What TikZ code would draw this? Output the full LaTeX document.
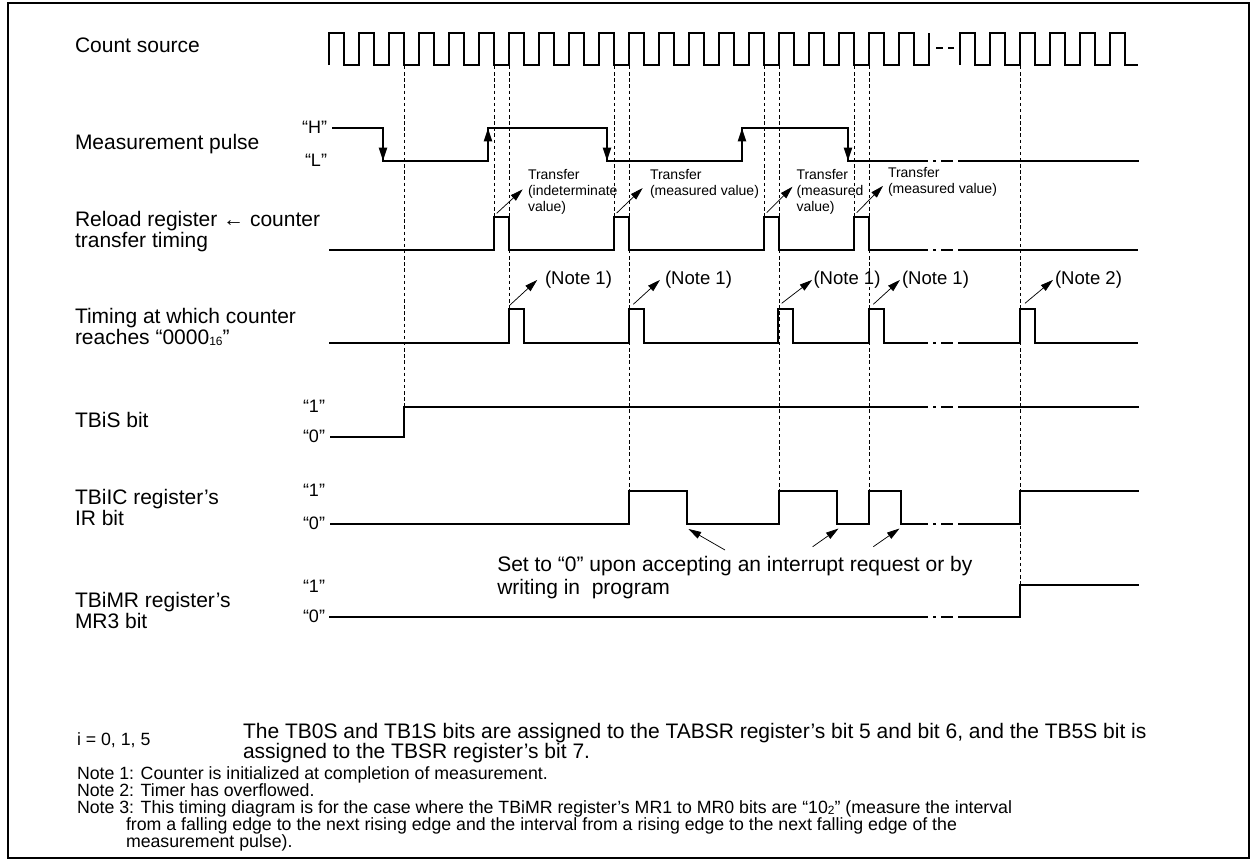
\documentclass[tikz,border=0pt]{standalone}
\usepackage{fontspec}
\setmainfont{Liberation Sans}
\usetikzlibrary{arrows.meta}
\newcommand{\fsig}{\fontsize{15.75}{15.75}\selectfont}
\newcommand{\flev}{\fontsize{13.5}{13.5}\selectfont}
\newcommand{\fnote}{\fontsize{13.9}{14}\selectfont}
\newcommand{\fxfer}{\fontsize{10.5}{12}\selectfont}
\newcommand{\ffoot}{\fontsize{13.3}{12.75}\selectfont}
\newcommand{\radix}[1]{\raisebox{-0.8pt}{\fontsize{9}{9}\selectfont #1}}
\newcommand{\sigbreak}[1]{%
  \draw[wave] (933,#1) -- (936,#1);
  \draw[wave] (941,#1) -- (953,#1);}

\begin{document}
\begin{tikzpicture}[x=0.75pt,y=-0.75pt,
    every node/.style={inner sep=0pt,outer sep=0pt},
    wave/.style={line width=1.5pt},
    guide/.style={line width=0.45pt,dash pattern=on 2.6pt off 2pt},
    pointer/.style={line width=0.55pt,-{Triangle[length=9.5pt,width=5.5pt]}},
    edgetip/.style={line width=1.5pt,-{Triangle[length=10pt,width=6pt]}},
    sig/.style={anchor=base west,align=left,font=\fsig},
    lev/.style={anchor=base east,font=\flev},
    xfer/.style={anchor=base west,align=left,font=\fxfer},
    note/.style={anchor=base west,font=\fnote}]
  \useasboundingbox (0,0) rectangle (1257,861);
  % frame
  \draw[line width=1.1pt] (8,3) rectangle (1249,858);
  % guides
  \foreach \x/\y in {404/407,494/217,509/309,614/217,629/491,764/217,779/491,854/217,869/491,1020/585}
    \draw[guide] (\x,66) -- (\x,\y);
  % signal names (base = last line)
  \node[sig] (lblCount) at (75,52.5) {Count source};
  \node[sig] (lblMeas) at (75,149) {Measurement pulse};
  \node[sig] (lblReload) at (75,247) {Reload register ← counter\\transfer timing};
  \node[sig] (lblCounter) at (75,344.5) {Timing at which counter\\reaches “0000\radix{16}”};
  \node[sig] (lblTBiS) at (75,427.5) {TBiS bit};
  \node[sig] (lblIR) at (75,525.5) {TBiIC register's\\IR bit};
  \node[sig] (lblMR3) at (75,628.5) {TBiMR register's\\MR3 bit};
  % levels
  \node[lev] (levH) at (327,133.5) {“H”};
  \node[lev] (levL) at (327,166) {“L”};
  \node[lev] (levS1) at (325,412) {“1”};
  \node[lev] (levS0) at (325,442.5) {“0”};
  \node[lev] (levI1) at (325,496.5) {“1”};
  \node[lev] (levI0) at (325,529.5) {“0”};
  \node[lev] (levM1) at (325,592) {“1”};
  \node[lev] (levM0) at (325,622.5) {“0”};
  % count source
  \draw[wave] (329,65) \foreach \x in {329,359,...,899} { -- (\x,65) -- (\x,33) -- (\x+15,33) -- (\x+15,65) } -- (929,65) -- (929,33);
  \draw[line width=1pt] (936,48) -- (943,48) (948,48) -- (954,48);
  \draw[wave] (960,65) \foreach \x in {960,990,...,1110} { -- (\x,65) -- (\x,33) -- (\x+15,33) -- (\x+15,65) } -- (1138,65);
  % measurement pulse
  \draw[wave] (332,128) -- (383,128) -- (383,161) -- (488,161) -- (488,128) -- (607,128) -- (607,161)
    -- (742,161) -- (742,128) -- (848,128) -- (848,161) -- (928,161);
  \sigbreak{161}
  \draw[wave] (958,161) -- (1139,161);
  \draw[edgetip] (383,128) -- (383,161);
  \draw[edgetip] (488,161) -- (488,128);
  \draw[edgetip] (607,128) -- (607,161);
  \draw[edgetip] (742,161) -- (742,128);
  \draw[edgetip] (848,128) -- (848,161);
  % reload register transfer
  \draw[wave] (329,250) \foreach \x in {494,614,764,854} { -- (\x,250) -- (\x,217) -- (\x+15,217) -- (\x+15,250) } -- (928,250);
  \sigbreak{250}
  \draw[wave] (958,250) -- (1138,250);
  \node[xfer] (xfer1) at (528,211) {Transfer\\(indeterminate\\value)};
  \node[xfer] (xfer2) at (650,195) {Transfer\\(measured value)};
  \node[xfer] (xfer3) at (796.5,211) {Transfer\\(measured\\value)};
  \node[xfer] (xfer4) at (888,193.5) {Transfer\\(measured value)};
  \coordinate (r1) at (496.7,213.3);
  \coordinate (r2) at (616.7,213);
  \coordinate (r3) at (766.7,212.7);
  \coordinate (r4) at (856.7,212.7);
  \draw[pointer] (r1) -- ([xshift=-4pt,yshift=1.5pt]xfer1.west);
  \draw[pointer] (r2) -- ([xshift=-5.5pt,yshift=-3.5pt]xfer2.west);
  \draw[pointer] (r3) -- ([xshift=-3pt,yshift=3.5pt]xfer3.west);
  \draw[pointer] (r4) -- ([xshift=-3.75pt,yshift=-3pt]xfer4.west);
  % counter reaches 0000
  \draw[wave] (329,343) \foreach \x in {509,629,778,869} { -- (\x,343) -- (\x,309) -- (\x+15,309) -- (\x+15,343) } -- (928,343);
  \sigbreak{343}
  \draw[wave] (958,343) -- (1020,343) -- (1020,309) -- (1035,309) -- (1035,343) -- (1138,343);
  \node[note] (note1a) at (545,284.7) {(Note 1)};
  \node[note] (note1b) at (665,284.7) {(Note 1)};
  \node[note] (note1c) at (813.5,284.7) {(Note 1)};
  \node[note] (note1d) at (902,284.7) {(Note 1)};
  \node[note] (note2) at (1055,284.7) {(Note 2)};
  \coordinate (c1) at (510,305);
  \coordinate (c2) at (633.3,304.3);
  \coordinate (c3) at (781.7,303.3);
  \coordinate (c4) at (873.3,304.3);
  \coordinate (c5) at (1025,303.3);
  \draw[pointer] (c1) -- ([xshift=-5.8pt]note1a.west);
  \draw[pointer] (c2) -- ([xshift=-3.75pt]note1b.west);
  \draw[pointer] (c3) -- ([xshift=-1pt]note1c.west);
  \draw[pointer] (c4) -- ([xshift=-1.5pt]note1d.west);
  \draw[pointer] (c5) -- ([xshift=-1.5pt]note2.west);
  % TBiS bit
  \draw[wave] (330,437) -- (404,437) -- (404,407) -- (928,407);
  \sigbreak{407}
  \draw[wave] (958,407) -- (1139,407);
  % IR bit
  \draw[wave] (330,524) -- (629,524) -- (629,491) -- (687,491) -- (687,524) -- (779,524) -- (779,491)
    -- (837,491) -- (837,524) -- (869,524) -- (869,491) -- (901,491) -- (901,524) -- (928,524);
  \sigbreak{524}
  \draw[wave] (958,524) -- (1020,524) -- (1020,491) -- (1139,491);
  \node[sig] (clrText) at (497.3,594) {Set to “0” upon accepting an interrupt request or by\\[1.5pt]writing in\ \ program};
  \coordinate (f1) at (687,524);
  \coordinate (f2) at (837,524);
  \coordinate (f3) at (901,524);
  \coordinate (k1) at (725,550);
  \coordinate (k2) at (812.7,546.7);
  \coordinate (k3) at (873.3,546.7);
  \draw[pointer] (k1) -- ([shift={(1.5,5)}]f1);
  \draw[pointer] (k2) -- ([shift={(1.5,4.5)}]f2);
  \draw[pointer] (k3) -- ([shift={(-1.5,4.5)}]f3);
  % MR3 bit
  \draw[wave] (329,617) -- (928,617);
  \sigbreak{617}
  \draw[wave] (958,617) -- (1020,617) -- (1020,585) -- (1139,585);
  % footnotes
  \node[sig] (regText) at (243,758.5) {The TB0S and TB1S bits are assigned to the TABSR register's bit 5 and bit 6, and the TB5S bit is\\[-0.6pt]assigned to the TBSR register's bit 7.};
  \node[anchor=base west,font=\ffoot] (idxText) at (77,745) {i = 0, 1, 5};
  \node[anchor=base west,font=\ffoot] (note1Text) at (77,779) {Note 1: Counter is initialized at completion of measurement.};
  \node[anchor=base west,font=\ffoot] (note2Text) at (77,796) {Note 2: Timer has overflowed.};
  \node[anchor=base west,font=\ffoot] (note3Text) at (77,813) {Note 3: This timing diagram is for the case where the TBiMR register's MR1 to MR0 bits are “10\radix{2}” (measure the interval};
  \node[anchor=base west,font=\ffoot] (note3b) at (126,830) {from a falling edge to the next rising edge and the interval from a rising edge to the next falling edge of the};
  \node[anchor=base west,font=\ffoot] (note3c) at (126,847) {measurement pulse).};
\end{tikzpicture}
\end{document}
